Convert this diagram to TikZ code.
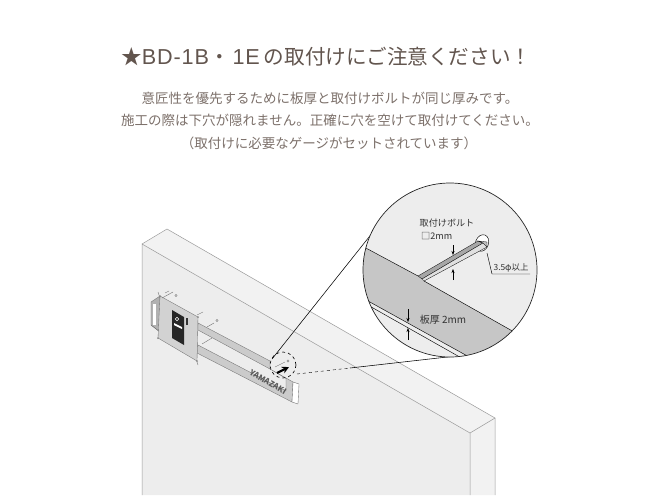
\documentclass[tikz,border=0pt]{standalone}
\usepackage{fontspec}
\usetikzlibrary{arrows.meta}
\setmainfont{Noto Sans CJK JP}
\newfontfamily\latinfont[LetterSpace=4,Scale=1.05]{Liberation Sans}
\definecolor{titlebrown}{HTML}{62554E}
\definecolor{textbrown}{HTML}{7C706A}
\definecolor{wallface}{HTML}{EDEDED}
\definecolor{wallside}{HTML}{F2F2F2}
\definecolor{wallline}{HTML}{9A9A9A}
\definecolor{bandgray}{HTML}{C6C6C6}
\definecolor{barface}{HTML}{CBCBCB}
\definecolor{plateface}{HTML}{D2D2D2}
\tikzset{
    headline/.style={text=titlebrown,font=\fontsize{20.6}{24}\selectfont,inner sep=0pt},
    bodyline/.style={text=textbrown,font=\fontsize{13.5}{16}\selectfont,inner sep=0pt},
    smalllabel/.style={text=black!80,font=\fontsize{9.1}{11}\selectfont,inner sep=0pt},
    gateline/.style={draw=black!55,line width=0.35pt},
    boltline/.style={draw=black!55,line width=0.4pt},
    dimarrow/.style={-{Stealth[length=4pt,width=3pt]},black,line width=0.35pt},
}
\begin{document}
\begin{tikzpicture}[x=1pt,y=-1pt]
    \useasboundingbox (0,0) rectangle (660,495);
    %texts
    \node[headline,anchor=west] (title) at (121,57) {★{\latinfont BD-1B}\hspace{1pt}・\hspace{2pt}{\latinfont 1E}\hspace{4pt}の取付けにご注意ください！};
    \node[bodyline] (lineone) at (330,98) {意匠性を優先するために板厚と取付けボルトが同じ厚みです。};
    \node[bodyline] (linetwo) at (330,120) {施工の際は下穴が隠れません。正確に穴を空けて取付けてください。};
    \node[bodyline] (linethree) at (329,143) {（取付けに必要なゲージがセットされています）};
    %wall
    \fill[wallface] (142,244) -- (470,433) -- (470,495) -- (142,495) -- cycle;
    \fill[wallside] (142,244) -- (167,229) -- (495,418) -- (495,495) -- (470,495) -- (470,433) -- cycle;
    \draw[wallline,line width=0.5pt] (142,495) -- (142,244) -- (470,433) -- (470,495);
    \draw[wallline,line width=0.5pt] (142,244) -- (167,229) -- (495,418) -- (495,495);
    \draw[wallline,line width=0.5pt] (470,433) -- (495,418);
    %gate frame
    \filldraw[gateline,fill=barface] (198,323) -- (270,361) -- (270,369) -- (198,330) -- cycle;
    \filldraw[gateline,fill=barface] (198,345) -- (286,391) -- (286,378.5) -- (270,369) -- (293,382) -- (292,402) -- (197,353) -- cycle;
    \filldraw[gateline,fill=white] (293,382) -- (299,384) -- (298,404) -- (292,402) -- cycle;
    \node[text=black!65,font=\fontsize{8}{9}\bfseries\selectfont,rotate=-30,inner sep=0pt] (brand) at (268,382) {YAMAZAKI};
    %gate plate
    \filldraw[gateline,fill=black!30] (151,302) -- (160,296) -- (160,332) -- (151,325) -- cycle;
    \fill[white] (153,304) rectangle (156,325);
    \draw[gateline] (151,325) -- (160,332);
    \filldraw[gateline,fill=plateface] (160,296) -- (198,317) -- (197,361) -- (158,338) -- cycle;
    \fill[black!85] (172,310) -- (184,317) -- (184,345) -- (172,338) -- cycle;
    \draw[white,line width=0.6pt] (177,319) circle (1.8);
    \fill[white] (174,323) -- (182,327) -- (182,329) -- (174,325) -- cycle;
    \fill[black!80] (186,318) rectangle (187.5,325);
    %bolts
    \draw[boltline] (162,298) -- (173,292) (207,327) -- (214,323) (202,344) -- (212,338) (275,367) -- (285,362);
    \draw[boltline] (158,292) -- (160,298) (165,293) -- (169,291) (197,315) -- (203,312) (197,362) -- (198,365);
    \draw[boltline] (176,295.5) circle (1.2) (217,320.5) circle (1.2) (288,361) circle (1.2);
    \foreach \px/\py in {160/296,198/317,197/361,158/338}
        \fill[black!45] (\px,\py) circle (1);
    %callout
    \coordinate (smalltop) at (272,359);
    \coordinate (bigtop) at (377,227);
    \coordinate (smalllow) at (297,374);
    \coordinate (bigmid) at (350,368);
    \coordinate (biglow) at (465,355);
    \draw[black,line width=0.55pt] (smalltop) -- (bigtop);
    \draw[black,line width=0.4pt,dashed] (smalllow) -- (bigmid);
    \draw[black,line width=0.55pt] (bigmid) -- (biglow);
    \draw[black,line width=0.6pt,dashed] (283,365) circle (13);
    \draw[-{Stealth[length=7pt,width=7pt]},black,line width=2.2pt] (277,373) -- (289,367);
    %enlarged circle
    \fill[white] (450,270) circle (87);
    \begin{scope}
        \clip (450,270) circle (87);
        \fill[wallface] (360,180) rectangle (540,360);
        \fill[bandgray] (350,240) -- (418,276) -- (424,281) -- (530,341) -- (480,363) -- (350,291) -- cycle;
        \draw[black,line width=0.45pt] (350,239.5) -- (418,276);
        \draw[black,line width=0.45pt] (424,281) -- (530,341);
        \fill[wallface] (350,291) -- (480,363) -- (460,363) -- (350,299) -- cycle;
        \draw[black,line width=0.45pt] (350,291) -- (480,363);
        \draw[black,line width=0.45pt] (350,295) -- (465,360);
        %bolt
        \filldraw[black,line width=0.45pt,fill=white] (482,243) ellipse [x radius=6.5,y radius=8.5,rotate=-20];
        \filldraw[black,line width=0.3pt,fill=black!35] (418,276) -- (478,241) -- (483,243) -- (422,279) -- cycle;
        \filldraw[black,line width=0.3pt,fill=black!12] (422,279) -- (483,243) -- (487,247) -- (424,281) -- cycle;
        \filldraw[black,line width=0.3pt,fill=black!25] (478,241) -- (487,242) -- (487,247) -- (483,243) -- cycle;
    \end{scope}
    \draw[black!85,line width=0.7pt] (450,270) circle (87);
    %labels in the circle
    \node[smalllabel] (boltname) at (447,223) {取付けボルト};
    \node[smalllabel,anchor=west] (boltsize) at (421,236) {□2mm};
    \node[smalllabel,font=\fontsize{8.4}{10}\selectfont] (holesize) at (511,268) {3.5φ以上};
    \node[smalllabel,font=\fontsize{10}{12}\selectfont] (platesize) at (443,320) {板厚 2mm};
    %dimension arrows
    \draw[dimarrow] (453,245) -- (453,255);
    \draw[dimarrow] (453,280) -- (453,269);
    \draw[dimarrow] (408,309) -- (408,322);
    \draw[dimarrow] (408,340) -- (408,328);
    \coordinate (holeedge) at (487,253);
    \coordinate (leaderbend) at (492,274);
    \coordinate (leaderend) at (530,274);
    \draw[black,line width=0.45pt] (holeedge) -- (leaderbend) -- (leaderend);
\end{tikzpicture}
\end{document}
